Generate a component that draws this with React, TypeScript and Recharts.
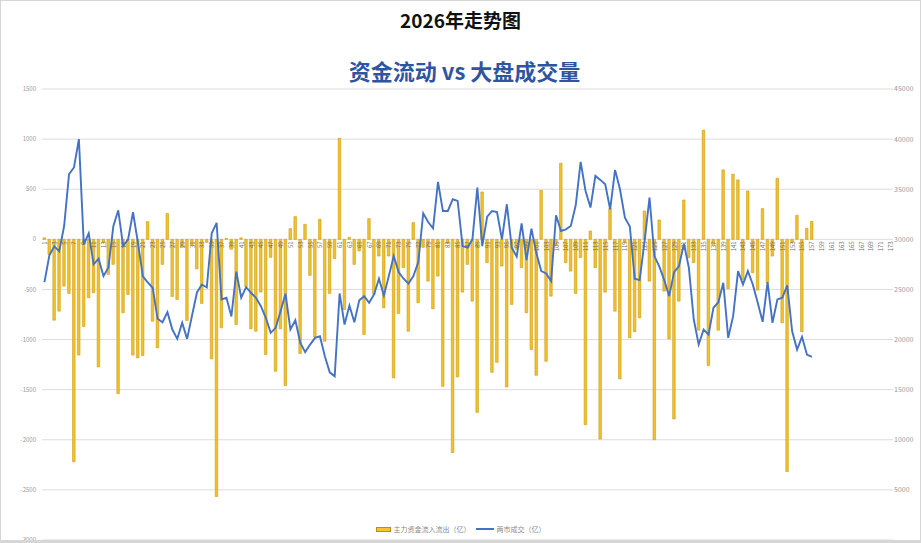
import {
  Bar,
  CartesianGrid,
  ComposedChart,
  Legend,
  Line,
  XAxis,
  YAxis,
} from 'recharts'

const FONT = '"Noto Sans CJK SC", "Noto Sans", sans-serif'

const CHART_W = 921
const CHART_H = 543
const MARGIN_TOP = 89
const MARGIN_BOTTOM = 2
const XAXIS_H = 1

const BAR_NAME = '主力资金流入流出（亿）'
const LINE_NAME = '两市成交（亿）'

const LEFT_TICKS = [-3000, -2500, -2000, -1500, -1000, -500, 0, 500, 1000, 1500]
const RIGHT_TICKS = [0, 5000, 10000, 15000, 20000, 25000, 30000, 35000, 40000, 45000]

// 1..173 on the axis, only the first 157 days carry data
const DAY_COUNT = 173
const categories = Array.from({ length: DAY_COUNT }, (_, i) => String(i + 1))

const netFlow = [
  15, -150, -807, -717, -467, -540, -2220, -1155, -870, -583,
  -533, -1273, -30, -350, -250, -1540, -733, -550, -1155, -1183,
  -1160, 177, -817, -1083, -250, 257, -570, -600, -80, -810,
  -60, -295, -640, -30, -1193, -2567, -883, 10, -100, -850,
  15, -470, -893, -917, -527, -1150, -180, -1317, -893, -1460,
  107, 227, -1140, 150, -360, -973, 200, -1017, -540, -193,
  1007, -700, 20, -250, -117, -950, 207, -550, -167, -683,
  -167, -1383, -740, -283, -917, 167, -633, -80, -417, -693,
  -367, -1467, -40, -2127, -1373, -527, -250, -617, -1727, 473,
  -233, -1327, -1227, -267, -1473, -650, -100, -283, -733, -1100,
  -1357, 490, -1217, -567, -60, 760, -233, -317, -540, -183,
  -1850, 83, -283, -1993, -527, 307, -717, -1393, -30, -983,
  -923, -783, 283, -417, -2000, 193, -517, -993, -1793, -617,
  393, -183, -233, -907, 1090, -1260, -50, -907, 693, -493,
  650, 593, -400, 483, -333, -507, 307, -433, -167, 610,
  -833, -2317, -30, 240, -923, 110, 180,
]

const turnover = [
  25730, 28400, 29300, 28800, 31330, 36500, 37170, 40000, 29500, 30600,
  27500, 28070, 26330, 27200, 31300, 32900, 29330, 30000, 32700, 29670,
  26300, 25700, 25170, 22070, 21730, 22730, 21000, 20070, 21670, 20070,
  22400, 24700, 25500, 25200, 30600, 31650, 24000, 24170, 22300, 26780,
  24170, 25230, 24670, 24170, 23330, 22170, 20670, 21170, 22830, 24570,
  21000, 21930, 19700, 18750, 19500, 20170, 20330, 18330, 16730, 16330,
  24600, 21500, 23400, 21730, 23930, 24330, 23670, 24500, 26070, 24400,
  26330, 28330, 26730, 26070, 25600, 26330, 27730, 32600, 31730, 31100,
  35730, 32830, 32830, 34000, 33830, 29330, 29170, 30000, 35170, 29330,
  32270, 32830, 32730, 30000, 33500, 29170, 28270, 31600, 27930, 31070,
  28600, 26830, 26600, 25830, 32400, 30830, 31000, 31330, 33400, 37730,
  34830, 33170, 36330, 35930, 35500, 33000, 36930, 35000, 32170, 31270,
  26070, 25930, 29830, 34170, 28330, 27270, 25930, 24330, 26730, 27330,
  29570, 27170, 22000, 19500, 21000, 20500, 23170, 23730, 25670, 20170,
  22330, 26830, 25500, 26830, 25500, 23670, 21770, 25730, 21670, 24000,
  24170, 25400, 20830, 19000, 20270, 18500, 18270,
]

const chartData = categories.map((day, i) => ({
  day,
  flow: i < netFlow.length ? netFlow[i] : null,
  volume: i < turnover.length ? turnover[i] : null,
}))

// the category labels sit on the zero line of the left axis, Excel style
const plotHeight = CHART_H - MARGIN_TOP - MARGIN_BOTTOM - XAXIS_H
const leftMin = LEFT_TICKS[0]
const leftMax = LEFT_TICKS[LEFT_TICKS.length - 1]
const zeroY = MARGIN_TOP + (plotHeight * leftMax) / (leftMax - leftMin)

function ZeroLineTick(props: any) {
  const { x, payload } = props
  return (
    <text
      transform={`translate(${x},${zeroY + 2}) rotate(-90)`}
      textAnchor="end"
      dominantBaseline="central"
      fontSize={6}
      fill="#6b6b6b"
      fontFamily={FONT}
    >
      {payload.value}
    </text>
  )
}

function ChartLegend() {
  return (
    <div
      style={{
        display: 'flex',
        justifyContent: 'center',
        alignItems: 'center',
        fontSize: 7,
        color: '#8a8a8a',
        fontFamily: FONT,
        gap: 3,
      }}
    >
      <span
        style={{
          width: 15,
          height: 5,
          background: '#f4c430',
          border: '1px solid #bf8f00',
          boxSizing: 'border-box',
          display: 'inline-block',
        }}
      />
      <span>{BAR_NAME}</span>
      <span
        style={{
          width: 18,
          height: 2,
          background: '#4472c4',
          display: 'inline-block',
          marginLeft: 2,
        }}
      />
      <span>{LINE_NAME}</span>
    </div>
  )
}

export default function App() {
  return (
    <div
      style={{
        position: 'fixed',
        top: 0,
        left: 0,
        width: CHART_W,
        height: CHART_H,
        background: '#fff',
        fontFamily: FONT,
      }}
    >
      <div
        style={{
          position: 'absolute',
          top: 6,
          width: '100%',
          textAlign: 'center',
          fontSize: 19,
          fontWeight: 700,
          color: '#111',
        }}
      >
        2026年走势图
      </div>
      <div
        style={{
          position: 'absolute',
          top: 54,
          left: 4,
          width: '100%',
          textAlign: 'center',
          fontSize: 22,
          fontWeight: 700,
          color: '#2f55a0',
        }}
      >
        资金流动 vs 大盘成交量
      </div>
      <div style={{ position: 'absolute', top: 0, left: 0 }}>
        <ComposedChart
          width={CHART_W}
          height={CHART_H}
          data={chartData}
          margin={{ top: MARGIN_TOP, right: 0, left: 0, bottom: MARGIN_BOTTOM }}
        >
          <CartesianGrid yAxisId="left" vertical={false} stroke="#dcdcdc" />
          <XAxis
            dataKey="day"
            height={XAXIS_H}
            interval={1}
            axisLine={false}
            tickLine={false}
            tick={<ZeroLineTick />}
          />
          <YAxis
            yAxisId="left"
            domain={[leftMin, leftMax]}
            ticks={LEFT_TICKS}
            width={42}
            axisLine={false}
            tickLine={false}
            tickMargin={0}
            tick={{ fontSize: 6, fill: '#9a9a9a', fontFamily: FONT }}
          />
          <YAxis
            yAxisId="right"
            orientation="right"
            domain={[RIGHT_TICKS[0], RIGHT_TICKS[RIGHT_TICKS.length - 1]]}
            ticks={RIGHT_TICKS}
            width={28}
            axisLine={false}
            tickLine={false}
            tickSize={0}
            tickMargin={1}
            tick={{ fontSize: 7, fill: '#9a9a9a', fontFamily: FONT }}
          />
          <Legend
            layout="horizontal"
            verticalAlign="middle"
            align="center"
            wrapperStyle={{ top: 524, left: 0, width: CHART_W }}
            content={<ChartLegend />}
          />
          <Bar
            yAxisId="left"
            dataKey="flow"
            name={BAR_NAME}
            barSize={2.6}
            fill="#f2c12a"
            stroke="#c49300"
            strokeWidth={0.5}
            isAnimationActive={false}
          />
          <Line
            yAxisId="right"
            dataKey="volume"
            name={LINE_NAME}
            type="linear"
            stroke="#4472c4"
            strokeWidth={1.9}
            dot={false}
            activeDot={false}
            isAnimationActive={false}
          />
        </ComposedChart>
      </div>
      <div
        style={{
          position: 'absolute',
          inset: 0,
          border: '1px solid #d6d6d6',
          borderBottomWidth: 3,
          pointerEvents: 'none',
        }}
      />
    </div>
  )
}
